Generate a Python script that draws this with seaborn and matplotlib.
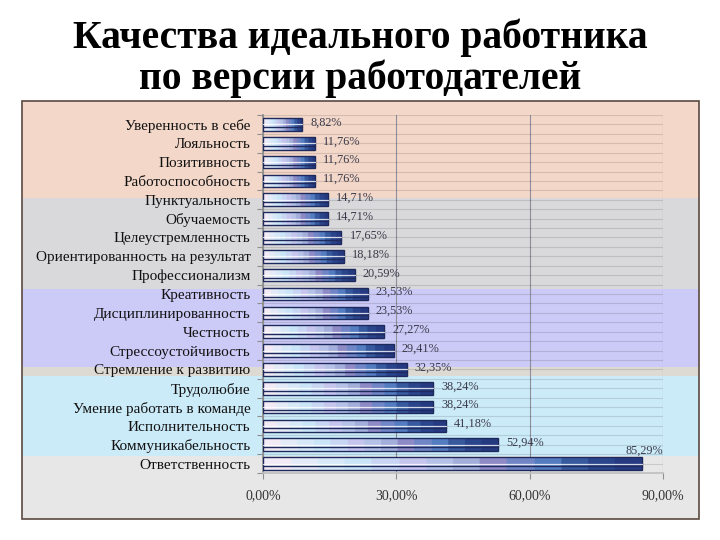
import numpy as np
import pandas as pd
import seaborn as sns
import matplotlib
matplotlib.use('Agg')
from matplotlib import pyplot as plt
from matplotlib.patches import Rectangle
from matplotlib.colors import LinearSegmentedColormap


QUALITIES = [
    'Уверенность в себе', 'Лояльность', 'Позитивность', 'Работоспособность',
    'Пунктуальность', 'Обучаемость', 'Целеустремленность',
    'Ориентированность на результат', 'Профессионализм', 'Креативность',
    'Дисциплинированность', 'Честность', 'Стрессоустойчивость',
    'Стремление к развитию', 'Трудолюбие', 'Умение работать в команде',
    'Исполнительность', 'Коммуникабельность', 'Ответственность'
]
SHARES = [8.82, 11.76, 11.76, 11.76, 14.71, 14.71, 17.65, 18.18, 20.59, 23.53,
          23.53, 27.27, 29.41, 32.35, 38.24, 38.24, 41.18, 52.94, 85.29]
X_TICKS = [0, 30, 60, 90]
TITLE = ['Качества идеального работника', 'по версии работодателей']

SERIF = ['Liberation Serif', 'DejaVu Serif']
W, H = 720, 540
# фон слайда: полосы (верх, низ в пикселях, цвет)
BANDS = [(101, 198, '#F3D7C9'), (198, 289, '#D9D9DB'), (289, 367, '#CCCAF7'),
         (367, 376, '#DDDAD4'), (376, 456, '#CCEBF9'), (456, 519, '#E7E7E7')]
BAR_CMAP = LinearSegmentedColormap.from_list(
    'excel_bar', ['#F2EAF5', '#DCEBF9', '#C8E4F8', '#C8C6EF', '#AFC0E5',
                  '#8C86C4', '#5B86C9', '#2D4D93', '#263A82'], N=14)
EDGE = '#1E2A5C'


def pct(v):
    return f'{v:.2f}%'.replace('.', ',')


def px_rect(fig, x0, y0, x1, y1, **kw):
    return Rectangle((x0 / W, 1 - y1 / H), (x1 - x0) / W, (y1 - y0) / H,
                     transform=fig.transFigure, **kw)


sns.set_theme(style='white')
plt.rcParams['font.family'] = SERIF

fig = plt.figure(figsize=(7.2, 5.4), dpi=100)
fig.patch.set_facecolor('white')

for y0, y1, c in BANDS:
    fig.add_artist(px_rect(fig, 22, y0, 699, y1, facecolor=c, edgecolor='none', zorder=-3))
fig.add_artist(px_rect(fig, 22, 101, 699, 519, facecolor='none',
                       edgecolor='#5B4A42', lw=1.2, zorder=-2))

# заголовок
for line, yc in zip(TITLE, [38, 79]):
    fig.text(0.5, 1 - yc / H, line, ha='center', va='center', fontsize=28.5,
             fontweight='bold', family=SERIF, color='black')

ax = fig.add_axes([263 / W, 1 - 473 / H, 400 / W, 358 / H])
ax.set_facecolor('none')

df = pd.DataFrame({'quality': QUALITIES, 'share': SHARES})
sns.barplot(data=df, x='share', y='quality', orient='h', width=0.67,
            color='#2D4D93', ax=ax, zorder=3)

# градиентная заливка столбцов
grad = np.linspace(0, 1, 256).reshape(1, -1)
for bar in list(ax.patches):
    x0, y0 = bar.get_x(), bar.get_y()
    w, h = bar.get_width(), bar.get_height()
    im = ax.imshow(grad, extent=[x0, x0 + w, y0 + h, y0], aspect='auto',
                   cmap=BAR_CMAP, zorder=3, interpolation='bilinear')
    im.set_clip_path(bar)
    bar.set_facecolor('none')
    bar.set_edgecolor(EDGE)
    bar.set_linewidth(1.0)
    bar.set_zorder(4)
    ax.plot([x0, x0 + w], [y0 + 0.5 * h] * 2, color='white', lw=0.9, alpha=0.8, zorder=4)
    ax.plot([x0, x0 + w], [y0 + 0.7 * h] * 2, color=EDGE, lw=1.0, zorder=4)

# подписи значений
for i, v in enumerate(SHARES):
    if v + 10 > X_TICKS[-1]:
        ax.text(X_TICKS[-1], i - 0.67, pct(v), ha='right', va='center',
                fontsize=8.8, color='#3A3A4A', zorder=5)
    else:
        ax.text(v + 1.8, i - 0.1, pct(v), ha='left', va='center',
                fontsize=8.8, color='#3A3A4A', zorder=5)

ax.set_xlim(X_TICKS[0], X_TICKS[-1])
ax.set_ylim(len(QUALITIES) - 0.5, -0.5)
ax.set_xticks(X_TICKS)
ax.set_xticklabels([pct(t) for t in X_TICKS])
ax.set_yticks(np.arange(-0.5, len(QUALITIES), 1), minor=True)
ax.set_xlabel('')
ax.set_ylabel('')

ax.grid(axis='x', which='major', color='#8F8F9C', lw=0.8, zorder=1)
ax.grid(axis='y', which='both', color='black', alpha=0.12, lw=0.8, zorder=1)
ax.set_axisbelow(True)

ax.tick_params(axis='x', length=4, width=0.8, color='#8E8E8E', pad=8,
               labelsize=10, labelcolor='#333333', bottom=True)
ax.tick_params(axis='y', which='major', length=0, pad=9, labelsize=11, labelcolor='#111111')
ax.tick_params(axis='y', which='minor', length=4, width=0.8, color='#8E8E8E', left=True)

for side in ['top', 'right']:
    ax.spines[side].set_visible(False)
ax.spines['left'].set_color('#8E8E8E')
ax.spines['bottom'].set_color('#BFBFBF')

fig.savefig('out.png', dpi=100)
